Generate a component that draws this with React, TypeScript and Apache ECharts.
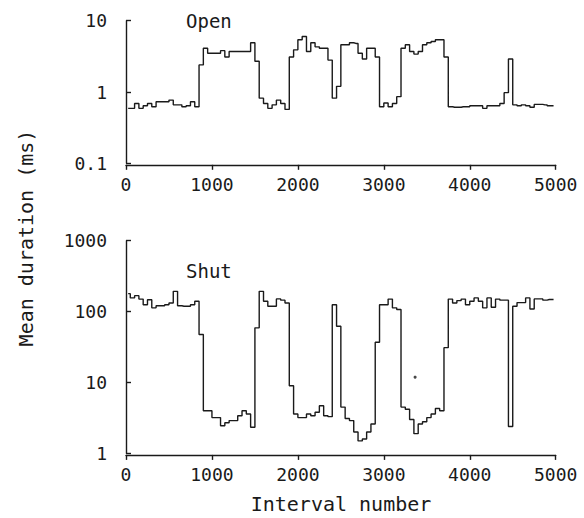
import React, { useEffect, useRef } from "react";
import * as echarts from "echarts";

// Mean durations of successive blocks of 50 intervals (ms)
const BLOCK = 50;
const openMeans = [
  0.59, 0.59, 0.69, 0.59, 0.64, 0.69, 0.62, 0.73, 0.73, 0.73,
  0.77, 0.66, 0.66, 0.62, 0.64, 0.73, 0.62, 2.4, 4.1, 3.5,
  3.5, 3.5, 3.8, 3.1, 3.7, 3.7, 3.7, 3.7, 3.7, 4.9,
  2.7, 0.82, 0.69, 0.59, 0.66, 0.77, 0.69, 0.57, 3.1, 3.9,
  5.4, 6.0, 3.7, 4.9, 4.3, 4.1, 4.1, 2.8, 0.82, 1.2,
  4.6, 4.6, 4.9, 4.8, 3.5, 2.9, 4.1, 4.1, 3.1, 0.62,
  0.7, 0.62, 0.69, 0.86, 4.1, 4.6, 3.7, 3.4, 3.7, 4.6,
  4.9, 5.1, 5.4, 5.4, 3.1, 0.62, 0.61, 0.61, 0.62, 0.62,
  0.64, 0.64, 0.64, 0.59, 0.64, 0.64, 0.64, 0.69, 0.98, 2.9,
  0.66, 0.64, 0.66, 0.64, 0.61, 0.67, 0.67, 0.66, 0.64, 0.64,
];
const shutMeans = [
  179, 156, 168, 150, 125, 147, 113, 121, 121, 125,
  132, 193, 121, 119, 119, 125, 140, 47.5, 4.0, 4.0,
  3.2, 3.2, 2.46, 2.7, 2.9, 2.9, 3.4, 4.0, 3.6, 2.34,
  59, 193, 140, 119, 119, 151, 145, 132, 9.0, 3.6,
  3.2, 3.2, 3.6, 3.4, 3.8, 4.7, 3.4, 3.3, 125, 62,
  4.5, 3.1, 2.9, 2.0, 1.5, 1.6, 2.0, 2.6, 37, 125,
  125, 150, 113, 107, 4.5, 4.2, 3.0, 1.9, 2.6, 2.8,
  3.2, 3.6, 4.3, 4.0, 31, 150, 132, 143, 150, 125,
  140, 156, 140, 113, 156, 115, 150, 145, 145, 2.4,
  119, 134, 134, 156, 109, 151, 151, 145, 148, 148,
];
const strayMark = [[3364, 11.9]];

const xTicks = { min: 0, max: 5000, interval: 1000 };
const openRange = { min: 0.1, max: 10 };
const shutRange = { min: 1, max: 1000 };
const panelLabels = ["Open", "Shut"];
const xTitle = "Interval number";
const yTitle = "Mean duration (ms)";

const FONT = "DejaVu Sans Mono";
const INK = "#1a1a1a";

const toSeries = (vals: number[]) =>
  vals.map((v, i) => [i * BLOCK + BLOCK / 2, v]);

const plain = (v: number) => String(Math.round(v * 1000) / 1000);

export default function App() {
  const ref = useRef<HTMLDivElement>(null);
  useEffect(() => {
    if (!ref.current) return;
    const chart = echarts.init(ref.current, null, { renderer: "svg" });
    const xAxisBase = (gridIndex: number) => ({
      type: "value" as const,
      gridIndex,
      min: xTicks.min,
      max: xTicks.max,
      interval: xTicks.interval,
      offset: 1.5,
      axisLine: { show: true, lineStyle: { color: INK, width: 1.4 } },
      axisTick: { show: true, inside: false, length: 5, lineStyle: { color: INK, width: 1.4 } },
      axisLabel: { color: INK, fontFamily: FONT, fontSize: 18, margin: 11, formatter: plain },
      splitLine: { show: false },
    });
    const yAxisBase = (gridIndex: number, r: { min: number; max: number }) => ({
      type: "log" as const,
      logBase: 10,
      gridIndex,
      min: r.min,
      max: r.max,
      offset: 13,
      axisLine: { show: true, lineStyle: { color: INK, width: 1.4 } },
      axisTick: { show: true, inside: true, length: 5, lineStyle: { color: INK, width: 1.4 } },
      axisLabel: {
        color: INK,
        fontFamily: FONT,
        fontSize: 18,
        margin: 6,
        showMinLabel: true,
        showMaxLabel: true,
        formatter: plain,
      },
      splitLine: { show: false },
      minorTick: { show: false },
    });
    const lineSeries = (idx: number, vals: number[]) => ({
      type: "line" as const,
      xAxisIndex: idx,
      yAxisIndex: idx,
      data: toSeries(vals),
      step: "middle" as const,
      showSymbol: false,
      symbol: "none",
      lineStyle: { color: INK, width: 1.4 },
      silent: true,
    });
    chart.setOption({
      animation: false,
      backgroundColor: "#ffffff",
      grid: [
        { left: 126, top: 20.7, width: 429.7, height: 142.6 },
        { left: 126, top: 240.7, width: 429.7, height: 212.7 },
      ],
      xAxis: [xAxisBase(0), xAxisBase(1)],
      yAxis: [yAxisBase(0, openRange), yAxisBase(1, shutRange)],
      series: [
        lineSeries(0, openMeans),
        lineSeries(1, shutMeans),
        {
          type: "scatter",
          xAxisIndex: 1,
          yAxisIndex: 1,
          data: strayMark,
          symbol: "circle",
          symbolSize: 3,
          itemStyle: { color: INK },
          silent: true,
        },
      ],
      graphic: [
        {
          type: "text",
          x: 186,
          y: 21,
          style: { text: panelLabels[0], font: `19px "${FONT}"`, fill: INK, textVerticalAlign: "middle" },
        },
        {
          type: "text",
          x: 186,
          y: 271,
          style: { text: panelLabels[1], font: `19px "${FONT}"`, fill: INK, textVerticalAlign: "middle" },
        },
        {
          type: "text",
          x: 341,
          y: 504,
          style: { text: xTitle, font: `20px "${FONT}"`, fill: INK, textAlign: "center", textVerticalAlign: "middle" },
        },
        {
          type: "text",
          x: 26,
          y: 238,
          rotation: Math.PI / 2,
          style: { text: yTitle, font: `20px "${FONT}"`, fill: INK, textAlign: "center", textVerticalAlign: "middle" },
        },
      ],
    });
    return () => chart.dispose();
  }, []);
  return (
    <div
      ref={ref}
      style={{ position: "fixed", left: 0, top: 0, width: 584, height: 518, background: "#fff" }}
    />
  );
}
